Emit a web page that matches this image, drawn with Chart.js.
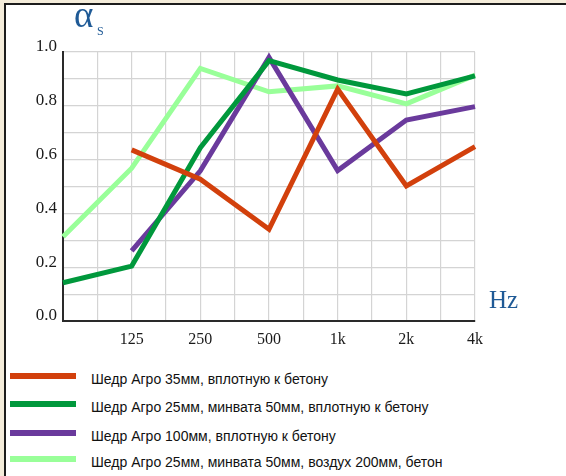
<!DOCTYPE html>
<html>
<head>
<meta charset="utf-8">
<script src="https://cdn.jsdelivr.net/npm/chart.js@4"></script>
<style>
    html, body {
        margin: 0;
        padding: 0;
    }
    body {
        width: 566px;
        height: 476px;
        background: #f4ecda;
        position: relative;
        overflow: hidden;
    }
    #panel {
        position: absolute;
        left: 4px;
        top: 3px;
        width: 562px;
        height: 473px;
        background: #fff;
        border-left: 2px solid #1c1c1c;
        border-top: 2px solid #1c1c1c;
    }
    #chart {
        position: absolute;
        left: 0;
        top: 0;
    }
    .axis-title {
        position: absolute;
        font-family: "Liberation Serif", serif;
        color: #1f5a96;
        line-height: 1;
        white-space: nowrap;
    }
    .legend-row {
        position: absolute;
        left: 0;
        width: 566px;
        height: 20px;
    }
    .legend-row .swatch {
        position: absolute;
        left: 10px;
        width: 66px;
        height: 6px;
    }
    .legend-row .label {
        position: absolute;
        left: 91px;
        font-family: "Liberation Sans", Arial, sans-serif;
        font-size: 14px;
        line-height: 1;
        color: #111;
        white-space: nowrap;
    }
</style>
</head>
<body>
<div id="panel"></div>
<canvas id="chart" width="566" height="350"></canvas>
<span class="axis-title" style="left:74px; top:-4px; font-size:37px;">α</span>
<span class="axis-title" style="left:97px; top:25px; font-size:12px;">S</span>
<span class="axis-title" style="left:489px; top:287px; font-size:25px;">Hz</span>
<div id="legend"></div>

<script>
// octave bands, 63 Hz has no label on the axis
const bands = ['63', '125', '250', '500', '1k', '2k', '4k'];
const bandLabels = ['', '125', '250', '500', '1k', '2k', '4k'];
const yTickLabels = ['0.0', '0.2', '0.4', '0.6', '0.8', '1.0'];

const seriesNames = [
    'Шедр Агро 35мм, вплотную к бетону',
    'Шедр Агро 25мм, минвата 50мм, вплотную к бетону',
    'Шедр Агро 100мм, вплотную к бетону',
    'Шедр Агро 25мм, минвата 50мм, воздух 200мм, бетон'
];
const seriesColors = ['#d2400c', '#00983c', '#6a3a9c', '#99ff99'];

const agro35 = [null, 0.636, 0.527, 0.341, 0.862, 0.502, 0.648];
const agro25Wool = [0.142, 0.204, 0.644, 0.968, 0.896, 0.844, 0.911];
const agro100 = [null, 0.261, 0.558, 0.980, 0.559, 0.747, 0.797];
const agro25WoolAir = [0.313, 0.568, 0.939, 0.852, 0.874, 0.807, 0.914];

const seriesValues = [agro35, agro25Wool, agro100, agro25WoolAir];

// each band sits on every second vertical grid line
const toPoints = (values) => values.map((v, i) => ({ x: i * 2, y: v }));

const datasets = seriesValues.map((values, i) => ({
    label: seriesNames[i],
    data: toPoints(values),
    borderColor: seriesColors[i],
    backgroundColor: seriesColors[i],
    borderWidth: 5,
    pointRadius: 0,
    pointHoverRadius: 0,
    tension: 0,
    borderJoinStyle: 'miter',
    borderCapStyle: 'butt',
    clip: false
}));

const ctx = document.getElementById('chart').getContext('2d');

new Chart(ctx, {
    type: 'line',
    data: { datasets: datasets },
    options: {
        responsive: false,
        animation: false,
        layout: {
            padding: { top: 52, right: 91, left: 0, bottom: 0 }
        },
        scales: {
            x: {
                type: 'linear',
                min: 0,
                max: 12,
                afterFit: (scale) => { scale.height = 29; },
                grid: { color: '#d4d4d4', lineWidth: 1.2, drawTicks: false },
                border: { color: '#2a2a2a', width: 2 },
                ticks: {
                    stepSize: 1,
                    autoSkip: false,
                    maxRotation: 0,
                    padding: 9,
                    color: '#1a1a1a',
                    font: { family: '"Liberation Serif", serif', size: 16 },
                    callback: (v) => (v % 2 === 0 ? bandLabels[v / 2] : '')
                }
            },
            y: {
                min: 0,
                max: 1,
                afterFit: (scale) => { scale.width = 63; },
                grid: { color: '#d4d4d4', lineWidth: 1.2, drawTicks: false },
                border: { color: '#2a2a2a', width: 2 },
                ticks: {
                    stepSize: 0.1,
                    autoSkip: false,
                    padding: 6,
                    labelOffset: -5,
                    color: '#1a1a1a',
                    font: { family: '"Liberation Serif", serif', size: 17 },
                    callback: (v) => {
                        const k = Math.round(v * 10);
                        return k % 2 === 0 ? yTickLabels[k / 2] : '';
                    }
                }
            }
        },
        plugins: {
            legend: { display: false },
            tooltip: { enabled: false }
        }
    }
});

// Legend below the chart, one row per series
const legendDiv = document.getElementById('legend');
const legendTops = [369, 397, 426, 452];
seriesNames.forEach((name, i) => {
    const row = document.createElement('div');
    row.className = 'legend-row';
    row.style.top = legendTops[i] + 'px';
    row.innerHTML = `<div class="swatch" style="top:4px; background:${seriesColors[i]}"></div>` +
        `<span class="label" style="top:3px">${name}</span>`;
    legendDiv.appendChild(row);
});
</script>
</body>
</html>
